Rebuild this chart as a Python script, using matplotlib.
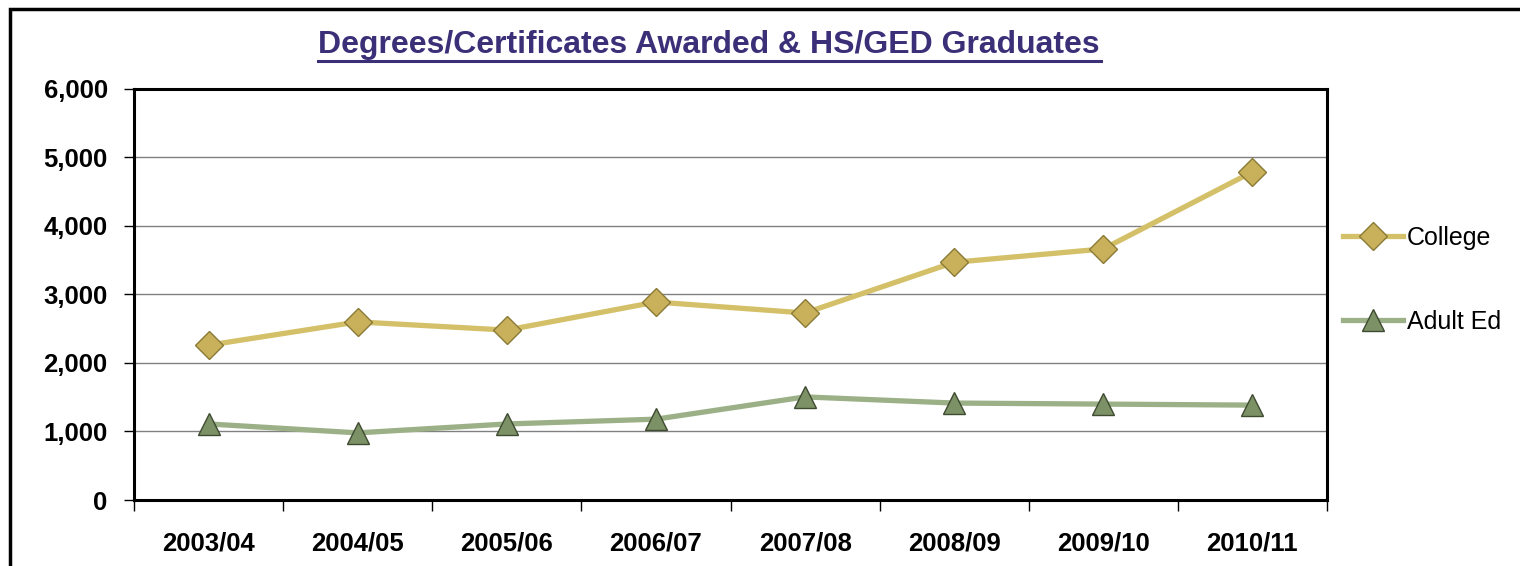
import matplotlib
matplotlib.use("Agg")
import matplotlib.pyplot as plt
from matplotlib.patches import Rectangle
from matplotlib.ticker import FuncFormatter, FixedLocator
import numpy as np

plt.rcParams['font.family'] = ['Liberation Sans', 'DejaVu Sans']

# data
years = ["2003/04", "2004/05", "2005/06", "2006/07", "2007/08", "2008/09", "2009/10", "2010/11"]
college = [2260, 2600, 2480, 2890, 2730, 3470, 3665, 4790]
adult_ed = [1110, 980, 1110, 1180, 1505, 1415, 1400, 1385]

fig = plt.figure(figsize=(15.2, 5.66), dpi=100)
ax = fig.add_axes([0.0882, 0.1166, 0.7848, 0.7262])

# outer frame of the chart area
fig.patches.append(Rectangle((10 / 1520, -0.1), 1.2, 1.1 - 9 / 566, transform=fig.transFigure,
                             fill=False, edgecolor="black", linewidth=2.5))

x = np.arange(len(years))
ax.plot(x, college, color="#d4c068", linewidth=3.8, marker="D", markersize=14,
        markerfacecolor="#c8b15a", markeredgecolor="#8a7a35", markeredgewidth=1.0,
        label="College", zorder=4)
ax.plot(x, adult_ed, color="#9bb087", linewidth=3.8, marker="^", markersize=16,
        markerfacecolor="#7d9167", markeredgecolor="#3f4b30", markeredgewidth=1.0,
        label="Adult Ed", zorder=4)

ax.set_xlim(-0.5, len(years) - 0.5)
ax.set_ylim(0, 6000)
ax.set_yticks(np.arange(0, 6001, 1000))
ax.yaxis.set_major_formatter(FuncFormatter(lambda v, p: f"{int(v):,}"))
ax.set_xticks(x)
ax.set_xticklabels(years)
ax.xaxis.set_minor_locator(FixedLocator(np.arange(-0.5, len(years), 1.0)))
ax.tick_params(axis="x", which="major", length=0, pad=23)
ax.tick_params(axis="x", which="minor", length=8, width=1, color="black")
ax.tick_params(axis="y", length=7, width=1, pad=12)
for lab in ax.get_xticklabels() + ax.get_yticklabels():
    lab.set_fontsize(18.5)
    lab.set_fontweight("bold")

ax.grid(axis="y", color="#808080", linewidth=1.0)
ax.set_axisbelow(True)
for s in ax.spines.values():
    s.set_linewidth(2.2)
    s.set_color("black")

ax.legend(loc="center left", bbox_to_anchor=(1.005, 0.535), frameon=False, fontsize=18,
          handlelength=2.4, handletextpad=0.15, labelspacing=2.4, borderaxespad=0)

fig.text(0.4665, 0.921, "Degrees/Certificates Awarded & HS/GED Graduates", ha="center", va="center",
         fontsize=23, fontweight="bold", color="#3b2f78")
fig.add_artist(plt.Line2D([318 / 1520, 1101 / 1520], [1 - 61 / 566, 1 - 61 / 566],
                          color="#3b2f78", linewidth=2.2))

fig.savefig("out.png", dpi=100)
